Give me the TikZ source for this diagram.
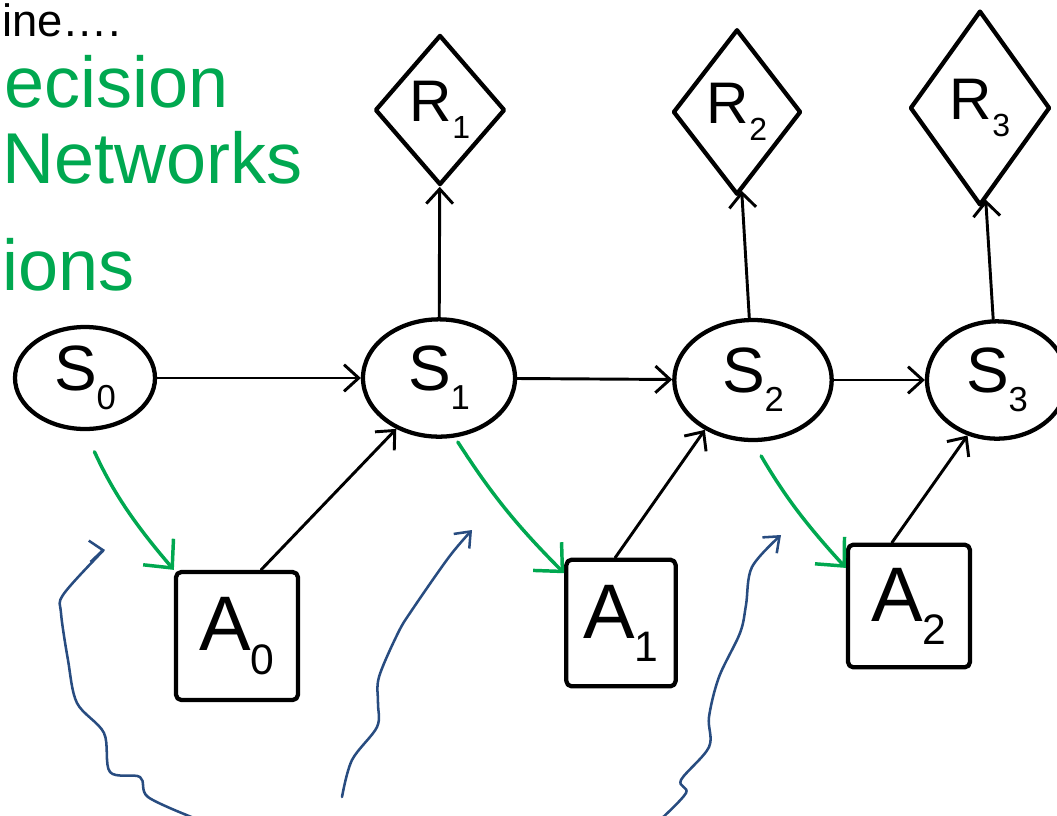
\documentclass[tikz,border=0pt]{standalone}
\usepackage{fontspec}
\setmainfont{Liberation Sans}
\usetikzlibrary{shapes.geometric,arrows.meta,calc}
\definecolor{inkgreen}{RGB}{0,168,80}
\definecolor{inkblue}{RGB}{40,76,128}
% letter with a lowered small index
\newcommand{\sublbl}[3]{#1\raisebox{-0.3em}{\fontsize{#3}{#3}\selectfont #2}}

\begin{document}
\begin{tikzpicture}[x=0.75pt,y=-0.75pt,
  ink/.style={line width=3.2pt, line cap=round, line join=round},
  statenode/.style={ellipse, draw, ink, inner sep=0pt, font=\fontsize{48}{50}\selectfont},
  rewardnode/.style={diamond, draw, ink, inner sep=0pt},
  rlabel/.style={font=\fontsize{44}{46}\selectfont},
  actnode/.style={rectangle, draw, ink, rounded corners=4pt, inner sep=0pt, font=\fontsize{58}{60}\selectfont},
  flow/.style={line width=2.2pt, line cap=round, -{Straight Barb[length=11pt,width=20pt]}},
  policy/.style={draw=inkgreen, line width=2.6pt, line cap=round, -{Straight Barb[length=16pt,width=30pt]}},
  note/.style={draw=inkblue, line width=1.9pt, line cap=round, line join=round, -{Straight Barb[length=10pt,width=16pt]}},
  handtext/.style={text=inkgreen, font=\fontsize{54}{56}\selectfont, anchor=base west, inner sep=0pt},
]
\useasboundingbox (0,0) rectangle (1057,815);
\clip (0,0) rectangle (1057,815);

% slide heading and side notes
\node[anchor=base west, inner sep=0pt, font=\fontsize{34}{36}\selectfont] (title) at (2,36) {ine….};
\node[handtext] (note1) at (4,107) {ecision};
\node[handtext] (note2) at (2,183) {Networks};
\node[handtext] (note3) at (2,290) {ions};

% states
\node[statenode, minimum width=105pt, minimum height=76.5pt] (S0) at (85,378) {\sublbl{S}{0}{26}};
\node[statenode, minimum width=114pt, minimum height=88pt] (S1) at (439,378) {\sublbl{S}{1}{26}};
\node[statenode, minimum width=118pt, minimum height=90pt] (S2) at (753,380) {\sublbl{S}{2}{26}};
\node[statenode, minimum width=105pt, minimum height=88pt] (S3) at (997,380) {\sublbl{S}{3}{26}};

% rewards
\node[rewardnode, minimum width=97.5pt, minimum height=112.5pt,
      label={[rlabel, name=R1t]center:\sublbl{R}{1}{24}}] (R1) at (440,110) {};
\node[rewardnode, minimum width=96pt, minimum height=124pt,
      label={[rlabel, name=R2t]center:\sublbl{R}{2}{24}}] (R2) at (737,112) {};
\node[rewardnode, minimum width=105pt, minimum height=146pt,
      label={[rlabel, name=R3t]center:\sublbl{R}{3}{24}}] (R3) at (980,108) {};

% actions
\node[actnode, minimum width=91.5pt, minimum height=96pt] (A0) at (237,636) {\sublbl{A}{0}{32}};
\node[actnode, minimum width=82pt, minimum height=95pt] (A1) at (621,623) {\sublbl{A}{1}{32}};
\node[actnode, minimum width=91.5pt, minimum height=92pt] (A2) at (909,606) {\sublbl{A}{2}{32}};

% transitions
\draw[flow] (S0) -- (S1);
\draw[flow] (S1) -- (S2);
\draw[flow] (S2) -- (S3);
\draw[flow] (S1) -- (R1);
\draw[flow] (S2) -- (R2);
\draw[flow] (S3) -- (R3);
\draw[flow] (A0.70) -- (S1.230);
\draw[flow] (A1.95) -- (S2.226);
\draw[flow] (A2.105) -- (S3.242);

% decisions
\coordinate (A1in) at ($(A1.north west)!0.12!(A1.south west)$);
\coordinate (A2in) at ($(A2.north west)!0.2!(A2.south west)$);
\draw[policy, shorten <=17pt] (S0.south) to[bend right=8] (A0.north west);
\draw[policy, shorten <=4pt] (S1.285) to[bend right=6] (A1in);
\draw[policy, shorten <=12pt] (S2.south) to[bend right=6] (A2in);

% annotation strokes
\coordinate (n1s) at (194,818);
\coordinate (n1e) at (105,550);
\coordinate (n2s) at (342,797);
\coordinate (n2e) at (472,530);
\coordinate (n3s) at (660,820);
\coordinate (n3e) at (781,535);
\draw[note] plot[smooth, tension=0.55] coordinates {(n1s) (148,797) (140,777) (110,772) (104,733) (77,703) (68,660) (61,613) (63,595) (97,557) (n1e)};
\draw[note] plot[smooth, tension=0.55] coordinates {(n2s) (352,760) (377,727) (378,703) (379,677) (398,633) (412,610) (449,557) (n2e)};
\draw[note] plot[smooth, tension=0.55] coordinates {(n3s) (686,793) (681,780) (709,747) (709,717) (719,677) (740,633) (746,605) (752,567) (n3e)};
\end{tikzpicture}
\end{document}
